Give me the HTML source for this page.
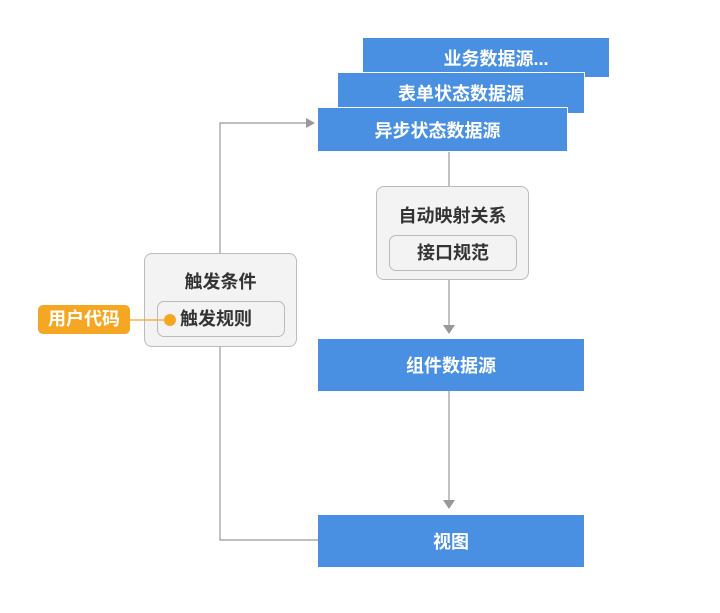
<!DOCTYPE html><html><head><meta charset="utf-8"><style>
body{margin:0;width:720px;height:613px;background:#fff;position:relative;font-family:"Liberation Sans","Noto Sans CJK SC",sans-serif;overflow:hidden}
.b{position:absolute;background:#4a90e2;color:#fff;font-size:18px;font-weight:bold;display:flex;align-items:center;justify-content:center;box-sizing:border-box;border:1px solid #fff}
.g{position:absolute;background:#f3f3f3;border:1px solid #bbb;border-radius:8px;box-sizing:border-box;color:#333;font-size:18px;font-weight:bold}
svg{position:absolute;left:0;top:0}
</style></head><body>
<svg width="720" height="613"><g stroke="#999" stroke-width="1.2" fill="none">
<path d="M220 253V123H308"/><path d="M220 347V540H318"/>
<path d="M449 151V186"/><path d="M449 280V326"/><path d="M449 390V501"/></g>
<g fill="#999"><path d="M306 118L315 123L306 128Z"/><path d="M443 325L449 334L455 325Z"/><path d="M443 500L449 509L455 500Z"/></g>
</svg>
<div class="b" style="left:362px;top:37px;width:248px;height:41px;padding-left:20px">业务数据源...</div>
<div class="b" style="left:337px;top:72px;width:248px;height:42px">表单状态数据源</div>
<div class="b" style="left:317px;top:107px;width:251px;height:45px;padding-right:10px">异步状态数据源</div>
<div class="g" style="left:144px;top:253px;width:153px;height:94px"><div style="text-align:center;margin-top:14px">触发条件</div>
<div style="position:absolute;left:12px;top:47px;width:128px;height:36px;border:1px solid #bbb;border-radius:7px;box-sizing:border-box;line-height:34px;padding-left:22px">触发规则</div></div>
<svg width="720" height="613"><path d="M130 320H170" stroke="#f5a623" stroke-width="1.2"/></svg>
<div style="position:absolute;left:164px;top:314px;width:12px;height:12px;border-radius:50%;background:#f5a623"></div>
<div style="position:absolute;left:38px;top:305px;width:92px;height:29px;background:#f5a623;border-radius:5px;color:#fff;font-size:18px;font-weight:bold;text-align:center;line-height:29px">用户代码</div>
<div class="g" style="left:376px;top:186px;width:153px;height:94px"><div style="text-align:center;margin-top:15px">自动映射关系</div>
<div style="position:absolute;left:12px;top:48px;width:128px;height:36px;border:1px solid #bbb;border-radius:7px;box-sizing:border-box;line-height:34px;text-align:center">接口规范</div></div>
<div class="b" style="left:318px;top:339px;width:266px;height:52px;border:none">组件数据源</div>
<div class="b" style="left:318px;top:515px;width:266px;height:52px;border:none">视图</div>
</body></html>
